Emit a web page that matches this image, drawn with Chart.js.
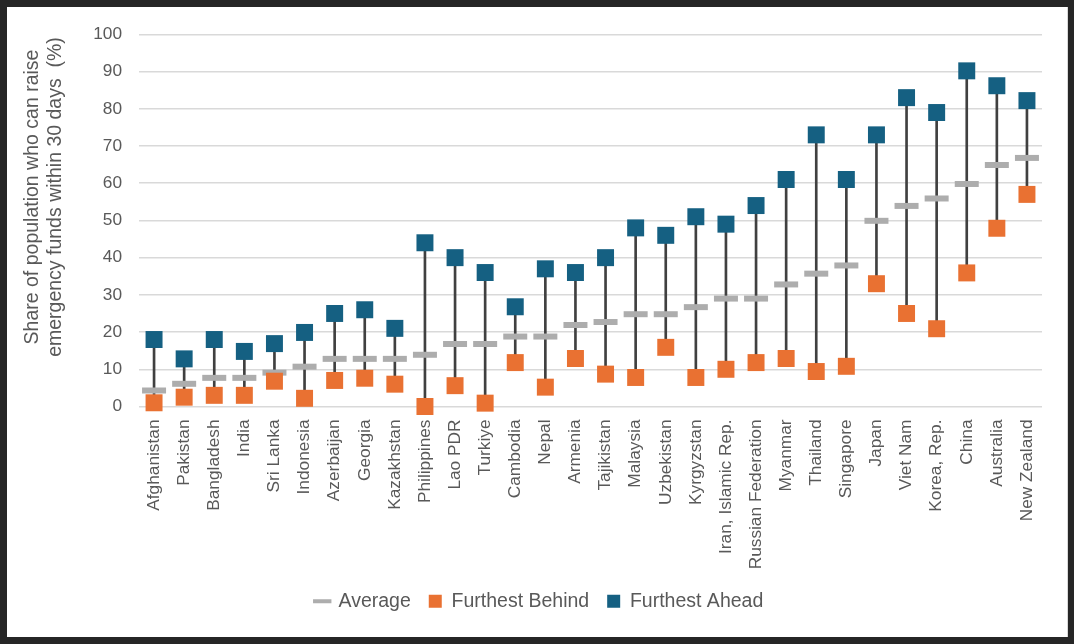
<!DOCTYPE html>
<html>
<head>
<meta charset="utf-8">
<script src="https://cdn.jsdelivr.net/npm/chart.js@4"></script>
<style>
  html, body { margin: 0; padding: 0; background: #262626; }
  #frame {
    position: absolute; left: 7px; top: 7px; width: 1060px; height: 630px;
    background: #ffffff; border-right: 1px solid #d9d9d9;
  }
  #myChart { display: block; }
</style>
</head>
<body>
<div id="frame"><canvas id="myChart" width="1060" height="630"></canvas></div>
<script>
const countries = ['Afghanistan', 'Pakistan', 'Bangladesh', 'India', 'Sri Lanka', 'Indonesia',
    'Azerbaijan', 'Georgia', 'Kazakhstan', 'Philippines', 'Lao PDR', 'Turkiye', 'Cambodia',
    'Nepal', 'Armenia', 'Tajikistan', 'Malaysia', 'Uzbekistan', 'Kyrgyzstan',
    'Iran, Islamic Rep.', 'Russian Federation', 'Myanmar', 'Thailand', 'Singapore', 'Japan',
    'Viet Nam', 'Korea, Rep.', 'China', 'Australia', 'New Zealand']

const behind = [1, 2.5, 3, 3, 6.8, 2.2, 7, 7.6, 6, 0, 5.6, 0.9, 11.8, 5.2, 12.9, 8.7, 7.8, 15.9,
    7.8, 10, 11.8, 12.9, 9.4, 10.8, 33, 25, 20.9, 35.9, 47.9, 57]
const ahead = [18, 12.8, 18, 14.8, 16.9, 19.9, 25, 26, 21, 44, 40, 36, 26.8, 37, 36, 40, 48, 46,
    51, 49, 54, 61, 73, 61, 73, 83, 79, 90.2, 86.2, 82.2]
const average = [4.3, 6.1, 7.7, 7.7, 9.1, 10.7, 12.8, 12.8, 12.8, 13.9, 16.8, 16.8, 18.8, 18.8,
    21.9, 22.7, 24.8, 24.8, 26.7, 29, 29, 32.8, 35.7, 37.9, 49.9, 53.9, 55.9, 59.8, 64.9, 66.8]

const yTicks = [0, 10, 20, 30, 40, 50, 60, 70, 80, 90, 100]
const yTitle = ['Share of population who can raise', 'emergency funds within 30 days  (%)']

const textColor = '#595959'
const fontFamily = "'Liberation Sans', Arial, sans-serif"

// y axis title, drawn a bit above the plot centre like the original
const yTitlePlugin = {
    id: 'yTitle',
    afterDraw(chart) {
        const ctx = chart.ctx
        ctx.save()
        ctx.translate(26, 190)
        ctx.rotate(-Math.PI / 2)
        ctx.fillStyle = textColor
        ctx.font = "19.5px " + fontFamily
        ctx.textAlign = 'center'
        ctx.textBaseline = 'middle'
        yTitle.forEach((line, i) => ctx.fillText(line, 0, i * 23))
        ctx.restore()
    }
}

function createChart() {

    const ctx = document.getElementById('myChart')

    const data = {
        labels: countries,
        datasets: [
            {
                type: 'line',
                label: 'Average',
                data: average,
                showLine: false,
                clip: false,
                pointStyle: 'line',
                pointRadius: 12,
                borderWidth: 6,
                borderColor: '#adadad',
                backgroundColor: '#adadad',
                order: 1
            },
            {
                type: 'line',
                label: 'Furthest Behind',
                data: behind,
                showLine: false,
                clip: false,
                pointStyle: 'rect',
                pointRadius: 12,
                borderWidth: 0,
                backgroundColor: '#e97132',
                borderColor: '#e97132',
                order: 0
            },
            {
                type: 'line',
                label: 'Furthest Ahead',
                data: ahead,
                showLine: false,
                clip: false,
                pointStyle: 'rect',
                pointRadius: 12,
                borderWidth: 0,
                backgroundColor: '#156082',
                borderColor: '#156082',
                order: 0
            },
            {
                type: 'bar',
                label: 'range',
                data: behind.map((b, i) => [b, ahead[i]]),
                backgroundColor: '#404040',
                barThickness: 2,
                order: 5
            }
        ]
    }

    const config = {
        type: 'bar',
        data: data,
        plugins: [yTitlePlugin],
        options: {
            responsive: false,
            animation: false,
            layout: {
                padding: { left: 30, right: 25, top: 25, bottom: 16 }
            },
            plugins: {
                tooltip: { enabled: false },
                legend: {
                    position: 'bottom',
                    labels: {
                        generateLabels: chart => Chart.defaults.plugins.legend.labels.generateLabels(chart)
                            .filter(item => item.text !== 'range')
                            .map(item => {
                                if (item.text === 'Average') item.lineWidth = 4
                                return item
                            }),
                        sort: (a, b) => a.datasetIndex - b.datasetIndex,
                        usePointStyle: true,
                        boxWidth: 13,
                        boxHeight: 13,
                        padding: 18,
                        color: textColor,
                        font: { family: fontFamily, size: 19.5 }
                    }
                }
            },
            scales: {
                x: {
                    grid: { display: false },
                    border: { display: false },
                    ticks: {
                        minRotation: 90,
                        maxRotation: 90,
                        autoSkip: false,
                        padding: 5,
                        color: textColor,
                        font: { family: fontFamily, size: 17.3 }
                    },
                    afterFit: scale => { scale.height = 167 }
                },
                y: {
                    min: 0,
                    max: 100,
                    afterBuildTicks: scale => { scale.ticks = yTicks.map(v => ({ value: v })) },
                    grid: { color: '#d9d9d9', lineWidth: 1.5, drawTicks: false },
                    border: { display: false },
                    ticks: {
                        padding: 17,
                        color: textColor,
                        font: { family: fontFamily, size: 17.3 }
                    },
                    afterFit: scale => { scale.width = 102 }
                }
            }
        }
    }

    return new Chart(ctx, config)
}

const chart = createChart()
</script>
</body>
</html>
